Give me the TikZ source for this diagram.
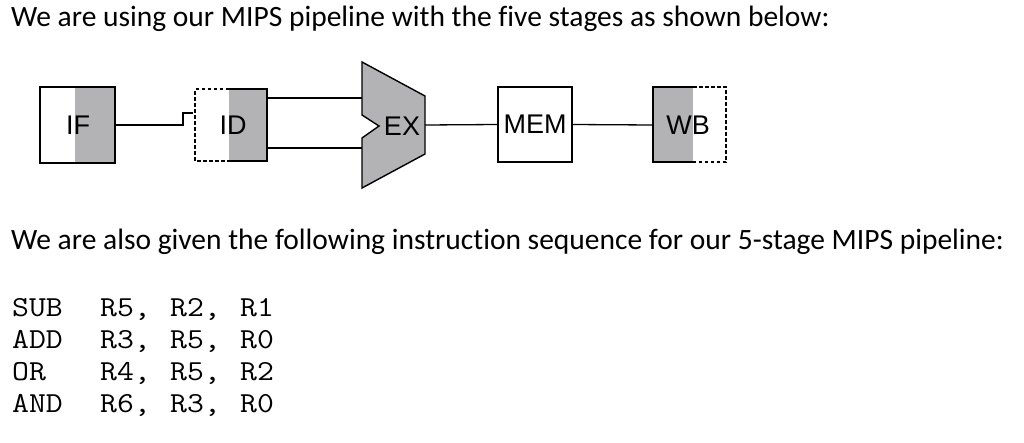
\documentclass[tikz,border=0pt]{standalone}
\usepackage{fontspec}
\setmainfont[Ligatures=NoCommon]{Carlito}
\newfontfamily\labelfont{Liberation Sans}
\definecolor{stagegray}{RGB}{179,179,181}
\begin{document}
\begin{tikzpicture}[x=1pt,y=-1pt,
  outline/.style={line width=1.4pt, black},
  dashline/.style={line width=1.4pt, dash pattern=on 3.5pt off 2.5pt},
  wire/.style={line width=1.3pt},
  stagelabel/.style={font=\labelfont\fontsize{27}{27}\selectfont, inner sep=0pt},
  prose/.style={font=\fontsize{29.5}{29.5}\selectfont, anchor=base west, inner sep=0pt},
  code/.style={font=\ttfamily\fontsize{29}{29}\selectfont, anchor=base west, inner sep=0pt, xscale=1.13, transform shape}]
\useasboundingbox (0,0) rectangle (1024,442);

% prose
\node[prose] (t1) at (11,26) {We are using our MIPS pipeline with the five stages as shown below:};
\node[prose] (t2) at (11,249) {We are also given the following instruction sequence for our 5-stage MIPS pipeline:};

% code
\node[code] (op1) at (12,316) {SUB};
\node[code] (op2) at (12,348) {ADD};
\node[code] (op3) at (12,380) {OR};
\node[code] (op4) at (12,412) {AND};
\node[code] (a11) at (100,316) {R5,};
\node[code] (a12) at (170,316) {R2,};
\node[code] (a13) at (240,316) {R1};
\node[code] (a21) at (100,348) {R3,};
\node[code] (a22) at (170,348) {R5,};
\node[code] (a23) at (240,348) {R0};
\node[code] (a31) at (100,380) {R4,};
\node[code] (a32) at (170,380) {R5,};
\node[code] (a33) at (240,380) {R2};
\node[code] (a41) at (100,412) {R6,};
\node[code] (a42) at (170,412) {R3,};
\node[code] (a43) at (240,412) {R0};

% IF
\fill[stagegray] (75,87) rectangle (115,163);
\draw[outline] (40,87) rectangle (115,163);
\node[stagelabel] (if) at (78,125) {IF};
\coordinate (ifout) at (115,125);

% ID
\fill[stagegray] (229,89) rectangle (267,161);
\draw[outline] (229,89) -- (267,89) -- (267,161) -- (229,161);
\draw[dashline] (229,89) -- (195,89) -- (195,161) -- (229,161);
\node[stagelabel] (id) at (233,125) {ID};
\coordinate (latch) at (183,125);
\coordinate (idout1) at (267,98);
\coordinate (idout2) at (267,148);

% EX
\draw[outline, fill=stagegray] (362,62) -- (425,96) -- (425,154) -- (362,188) -- (362,138) -- (379,126) -- (362,115) -- cycle;
\node[stagelabel] (ex) at (402,126) {EX};
\coordinate (exin1) at (362,98);
\coordinate (exin2) at (362,148);
\coordinate (exout) at (425,125);

% MEM
\node[draw, outline, minimum width=74pt, minimum height=75pt, inner sep=0pt,
      font=\labelfont\fontsize{27}{27}\selectfont] (mem) at (535,124.5) {MEM};

% WB
\fill[stagegray] (653,87) rectangle (693,162);
\draw[outline] (693,87) -- (653,87) -- (653,162) -- (693,162);
\draw[dashline] (693,87) -- (726,87) -- (726,162) -- (693,162);
\node[stagelabel] (wb) at (688,125) {WB};
\coordinate (wbin) at (653,125);

% connectors
\draw[wire] (ifout) -- (latch) -- ++(0,-12) -- ++(10,0);
\draw[wire] (idout1) -- (exin1);
\draw[wire] (idout2) -- (exin2);
\draw[wire] (exout) -- (mem.west);
\draw[wire] (mem.east) -- (wbin);
\end{tikzpicture}
\end{document}
